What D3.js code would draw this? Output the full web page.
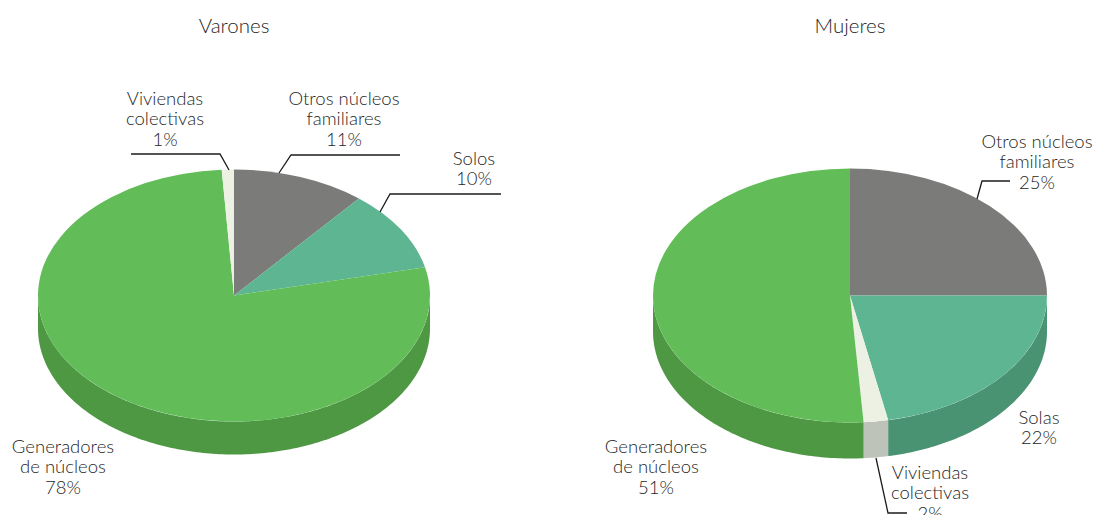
<!DOCTYPE html>
<html><head><meta charset="utf-8">
<script src="https://cdn.jsdelivr.net/npm/d3@7/dist/d3.min.js"></script>
<style>html,body{margin:0;padding:0;background:#fff;overflow:hidden}svg{display:block}
text{font-family:Lato,sans-serif;font-weight:300;font-size:18.5px;fill:#1f1f1f;text-anchor:middle}</style>
</head><body><svg id="c" width="1094" height="515"></svg>
<script>
const chartTitles = ["Varones", "Mujeres"];
const varonesCategories = ["Otros núcleos familiares", "Solos", "Generadores de núcleos", "Viviendas colectivas"];
const varonesValues = [11, 10.4, 77.6, 1];
const varonesLabels = ["11%", "10%", "78%", "1%"];
const mujeresCategories = ["Otros núcleos familiares", "Solas", "Viviendas colectivas", "Generadores de núcleos"];
const mujeresValues = [25, 21.9, 2, 51.1];
const mujeresLabels = ["25%", "22%", "2%", "51%"];
const varonesTop = ["#7b7b79", "#5eb591", "#62bd58", "#ecf1e4"];
const varonesSide = ["#636361", "#499372", "#4e9843", "#bec3b9"];
const mujeresTop = ["#7b7b79", "#5eb591", "#ecf1e4", "#62bd58"];
const mujeresSide = ["#636361", "#499372", "#bec3b9", "#4e9843"];

const geometry = [
  {cx:234, cy:295.5, rx:196, ry:126, depth:33},
  {cx:850, cy:295.5, rx:197, ry:127, depth:36}
];
const labelLayout = [
  [ {x:344,y:105,lines:["Otros núcleos","familiares"]},
    {x:474,y:165,lines:["Solos"]},
    {x:63,y:453,lines:["Generadores","de núcleos"]},
    {x:165,y:105,lines:["Viviendas","colectivas"]} ],
  [ {x:1037,y:148,lines:["Otros núcleos","familiares"]},
    {x:1039,y:424,lines:["Solas"]},
    {x:930,y:479,lines:["Viviendas","colectivas"]},
    {x:656,y:453,lines:["Generadores","de núcleos"]} ]
];
const leaders = [
  [[[400,155],[291,155],[279,173]], [[501,194],[390,194],[380,212]], [[131,154],[220,154],[229,170]]],
  [[[1010,181],[982,181],[977,199]], [[876,458],[888,513],[907,513]]]
];

const svg = d3.select("#c");
const pie = d3.pie().sort(null).value(d => d);

function drawPie(values, pctLabels, topColors, sideColors, g, layout, lead, title) {
  const root = svg.append("g");
  const arcs = pie(values);
  const ang = a => ({x: g.cx + g.rx*Math.sin(a), y: g.cy - g.ry*Math.cos(a)});

  // side wall: only the front half (angles between PI/2 and 3PI/2) is visible
  const wall = d3.area().x(d => ang(d).x).y0(d => ang(d).y).y1(d => ang(d).y + g.depth);
  arcs.forEach((s, i) => {
    const a0 = Math.max(s.startAngle, Math.PI/2), a1 = Math.min(s.endAngle, 3*Math.PI/2);
    if (a1 <= a0) return;
    const n = Math.max(2, Math.ceil((a1-a0)*60));
    const samples = d3.range(n+1).map(k => a0 + (a1-a0)*k/n);
    root.append("path").attr("d", wall(samples)).attr("fill", sideColors[i]);
  });

  // top ellipse
  const arc = d3.arc().innerRadius(0).outerRadius(g.rx);
  const top = root.append("g").attr("transform", `translate(${g.cx},${g.cy}) scale(1,${g.ry/g.rx})`);
  top.selectAll("path").data(arcs).join("path")
    .attr("d", arc).attr("fill", (d,i) => topColors[i]);

  // leaders
  const line = d3.line();
  lead.forEach(p => root.append("path").attr("d", line(p)).attr("fill","none")
    .attr("stroke","#1c1c1c").attr("stroke-width",1.3));

  // labels
  root.append("text").attr("x", g.cx).attr("y", 33).text(title).style("font-size","20.5px");
  layout.forEach((l,i) => {
    const lines = l.lines.concat(pctLabels[i]);
    lines.forEach((t,k) => root.append("text").attr("x", l.x).attr("y", l.y + k*20.3).text(t));
  });
}
drawPie(varonesValues, varonesLabels, varonesTop, varonesSide, geometry[0], labelLayout[0], leaders[0], chartTitles[0]);
drawPie(mujeresValues, mujeresLabels, mujeresTop, mujeresSide, geometry[1], labelLayout[1], leaders[1], chartTitles[1]);
</script></body></html>
